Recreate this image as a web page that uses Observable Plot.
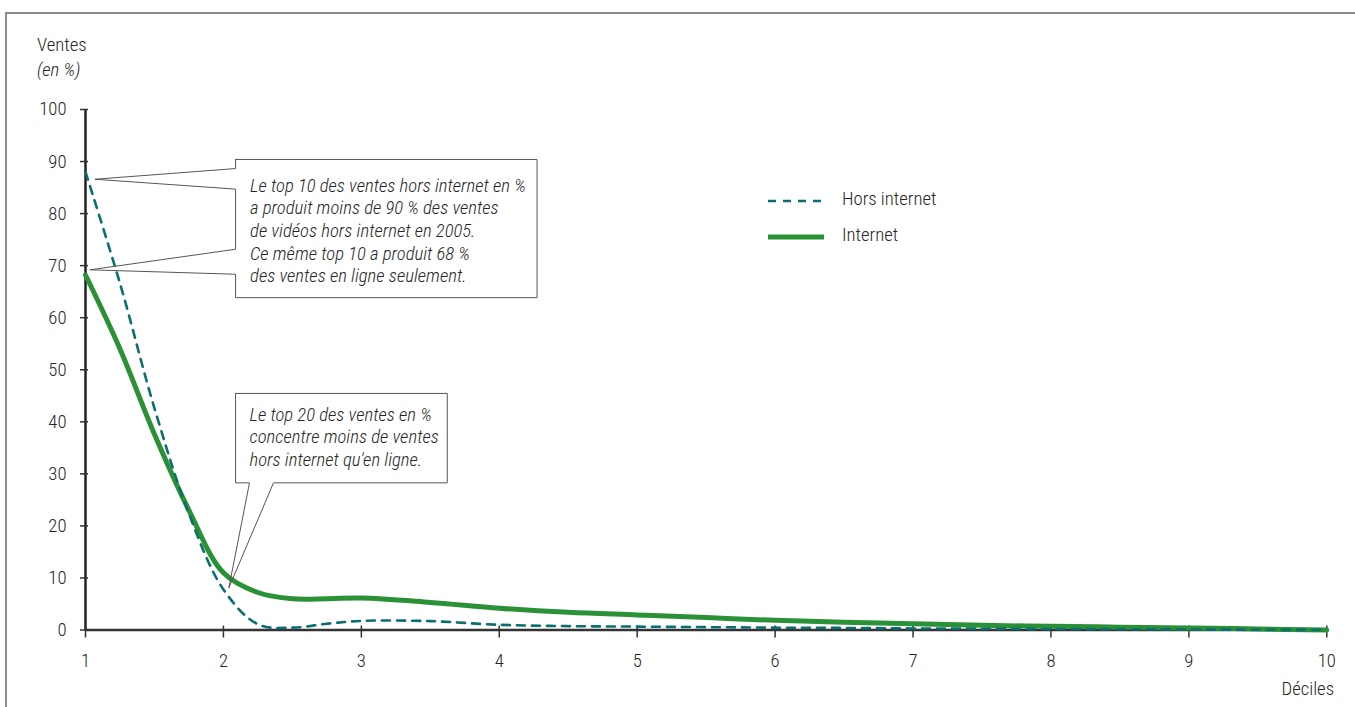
<!DOCTYPE html>
<html>
<head>
<meta charset="utf-8">
<script src="https://cdn.jsdelivr.net/npm/d3@7"></script>
<script src="https://cdn.jsdelivr.net/npm/@observablehq/plot@0.6"></script>
<style>
  html, body { margin: 0; padding: 0; background: #fff; }
  #wrap { position: relative; width: 1355px; height: 707px; overflow: hidden; color: #262626; font-weight: 300; }
  #frame { position: absolute; left: 5px; top: 12px; width: 1400px; height: 800px;
    border-left: 2px solid #8c8c8c; border-top: 2px solid #8c8c8c; }
  #chart { position: absolute; left: 0; top: 0; }
  .lab { position: absolute; line-height: 20px; white-space: nowrap; }
  #legend { position: absolute; left: 760px; top: 185px; }
</style>
</head>
<body>
<div id="wrap">
  <div id="frame"></div>
  <div id="chart"></div>
  <div class="lab" id="l1" style="left:37px; top:35px;">Ventes</div>
  <div class="lab" id="l2" style="left:37px; top:60px; font-style:italic;">(en %)</div>
  <div class="lab" id="l3" style="right:21px; top:679px;">Déciles</div>
  <div id="legend"></div>
</div>
<script>
// ---- data ----
const deciles = [1, 1.25, 1.5, 1.75, 2, 2.25, 2.5, 2.75, 3, 3.5, 4, 4.5, 5, 5.5, 6, 6.5, 7, 7.5, 8, 8.5, 9, 9.5, 10];
const horsInternet = [88, 66.6, 42.6, 22.3, 7.8, 1.1, 0.45, 1.2, 1.75, 1.7, 1.0, 0.75, 0.65, 0.55, 0.45, 0.4, 0.3, 0.25, 0.2, 0.15, 0.1, 0.05, 0];
const internet = [68.2, 54, 37.6, 23, 11, 7.2, 6.0, 6.0, 6.15, 5.3, 4.2, 3.4, 2.9, 2.4, 1.85, 1.5, 1.2, 0.9, 0.7, 0.55, 0.4, 0.2, 0];
const seriesNames = ["Hors internet", "Internet"];
const seriesColors = ["#0b6f6f", "#2a9137"];
const xTicks = [1, 2, 3, 4, 5, 6, 7, 8, 9, 10];
const yTicks = [0, 10, 20, 30, 40, 50, 60, 70, 80, 90, 100];

// annotation callouts (data coordinates)
const note1Text = "Le top 10 des ventes hors internet en %\na produit moins de 90 % des ventes\nde vidéos hors internet en 2005.\nCe même top 10 a produit 68 %\ndes ventes en ligne seulement.";
const note1Box = {x1: 2.088, x2: 4.274, y1: 63.85, y2: 90.4, tx: 2.193, ty: 76.9};
const note1Pointers = [
  {tip: [1.068, 86.6], a: 88.65, b: 84.7},
  {tip: [1.033, 69.2], a: 73.15, b: 68.35}
];
const note2Text = "Le top 20 des ventes en %\nconcentre moins de ventes\nhors internet qu'en ligne.";
const note2Box = {x1: 2.088, x2: 3.623, y1: 28.27, y2: 45.45, tx: 2.189, ty: 37.25};
const note2Pointer = {tip: [2.039, 8.08], a: 2.189, b: 2.363};

// ---- font: condensed family sized to the reference text widths ----
const fontFam = '"Roboto Condensed", "Liberation Sans Narrow", "Arial Narrow", Roboto, "DejaVu Sans Condensed", sans-serif';
const cv = document.createElement("canvas").getContext("2d");
cv.font = `italic 300 100px ${fontFam}`;
const wRef = cv.measureText("Le top 10 des ventes hors internet en %").width;
const fs = Math.round(276 / wRef * 100 * 10) / 10;
const txt = "#262626";

document.getElementById("wrap").style.fontFamily = fontFam;
for (const id of ["l1", "l2", "l3"]) document.getElementById(id).style.fontSize = fs + "px";

// ---- build tables ----
const rows = [];
deciles.forEach((d, i) => {
  rows.push({decile: d, value: horsInternet[i], serie: seriesNames[0]});
  rows.push({decile: d, value: internet[i], serie: seriesNames[1]});
});
const hors = rows.filter(r => r.serie === seriesNames[0]);
const inter = rows.filter(r => r.serie === seriesNames[1]);

const b1 = note1Box, p1 = note1Pointers;
const outline1 = [
  [b1.x1, b1.y2], [b1.x2, b1.y2], [b1.x2, b1.y1], [b1.x1, b1.y1],
  [b1.x1, p1[1].b], p1[1].tip, [b1.x1, p1[1].a],
  [b1.x1, p1[0].b], p1[0].tip, [b1.x1, p1[0].a],
  [b1.x1, b1.y2]
].map(p => ({x: p[0], y: p[1], k: "n1"}));
const b2 = note2Box, p2 = note2Pointer;
const outline2 = [
  [b2.x1, b2.y2], [b2.x2, b2.y2], [b2.x2, b2.y1], [p2.b, b2.y1],
  p2.tip, [p2.a, b2.y1], [b2.x1, b2.y1], [b2.x1, b2.y2]
].map(p => ({x: p[0], y: p[1], k: "n2"}));
const outlines = outline1.concat(outline2);
const boxes = [b1, b2];
const notes = [{x: b1.tx, y: b1.ty, t: note1Text}, {x: b2.tx, y: b2.ty, t: note2Text}];

const chart = Plot.plot({
  width: 1355,
  height: 707,
  marginLeft: 85,
  marginRight: 28.7,
  marginTop: 109,
  marginBottom: 77.5,
  x: {domain: [1, 10], axis: null},
  y: {domain: [0, 100], axis: null},
  style: {fontFamily: fontFam, fontSize: fs + "px", fontWeight: 300, color: txt, background: "transparent", overflow: "visible"},
  marks: [
    Plot.rect(boxes, {x1: "x1", x2: "x2", y1: "y1", y2: "y2", fill: "white"}),
    Plot.ruleX([1], {y1: 0, y2: 100, stroke: "#222", strokeWidth: 2.5}),
    Plot.ruleY([0], {x1: 1, x2: 10, stroke: "#333", strokeWidth: 2.5}),
    Plot.ruleY(yTicks, {y: d => d, x1: 1, x2: 1, insetLeft: -5, insetRight: -3, stroke: "#333", strokeWidth: 1.5}),
    Plot.ruleX(xTicks, {x: d => d, y1: 0, y2: 0, insetTop: -4, insetBottom: -8, stroke: "#333", strokeWidth: 1.5}),
    Plot.text(yTicks, {x: 1, y: d => d, text: d => String(d), dx: -19, textAnchor: "end", fontSize: fs, fontWeight: 300, fill: txt}),
    Plot.text(xTicks, {x: d => d, y: 0, text: d => String(d), dy: 31, fontSize: fs, fontWeight: 300, fill: txt}),
    Plot.line(inter, {x: "decile", y: "value", stroke: seriesColors[1], strokeWidth: 5, curve: "catmull-rom"}),
    Plot.line(hors, {x: "decile", y: "value", stroke: seriesColors[0], strokeWidth: 2.6, strokeDasharray: "8,7", curve: "catmull-rom"}),
    Plot.line(outlines, {x: "x", y: "y", z: "k", stroke: "#555", strokeWidth: 1, curve: "linear"}),
    Plot.text(notes, {x: "x", y: "y", text: "t", textAnchor: "start", lineAnchor: "middle", lineHeight: 22.6 / fs, fontSize: fs, fontWeight: 300, fontStyle: "italic", fill: txt})
  ]
});
document.getElementById("chart").appendChild(chart);

// legend
const lg = document.getElementById("legend");
let html = '<svg width="200" height="70" style="position:absolute;left:0;top:0;overflow:visible">';
html += `<line x1="8" x2="64" y1="16" y2="16" stroke="${seriesColors[0]}" stroke-width="2.6" stroke-dasharray="8,7"/>`;
html += `<line x1="8" x2="64" y1="52" y2="52" stroke="${seriesColors[1]}" stroke-width="5"/>`;
html += '</svg>';
html += `<div class="lab" style="left:82px; top:4px; font-size:${fs}px">${seriesNames[0]}</div>`;
html += `<div class="lab" style="left:82px; top:40px; font-size:${fs}px">${seriesNames[1]}</div>`;
lg.innerHTML = html;
</script>
</body>
</html>
